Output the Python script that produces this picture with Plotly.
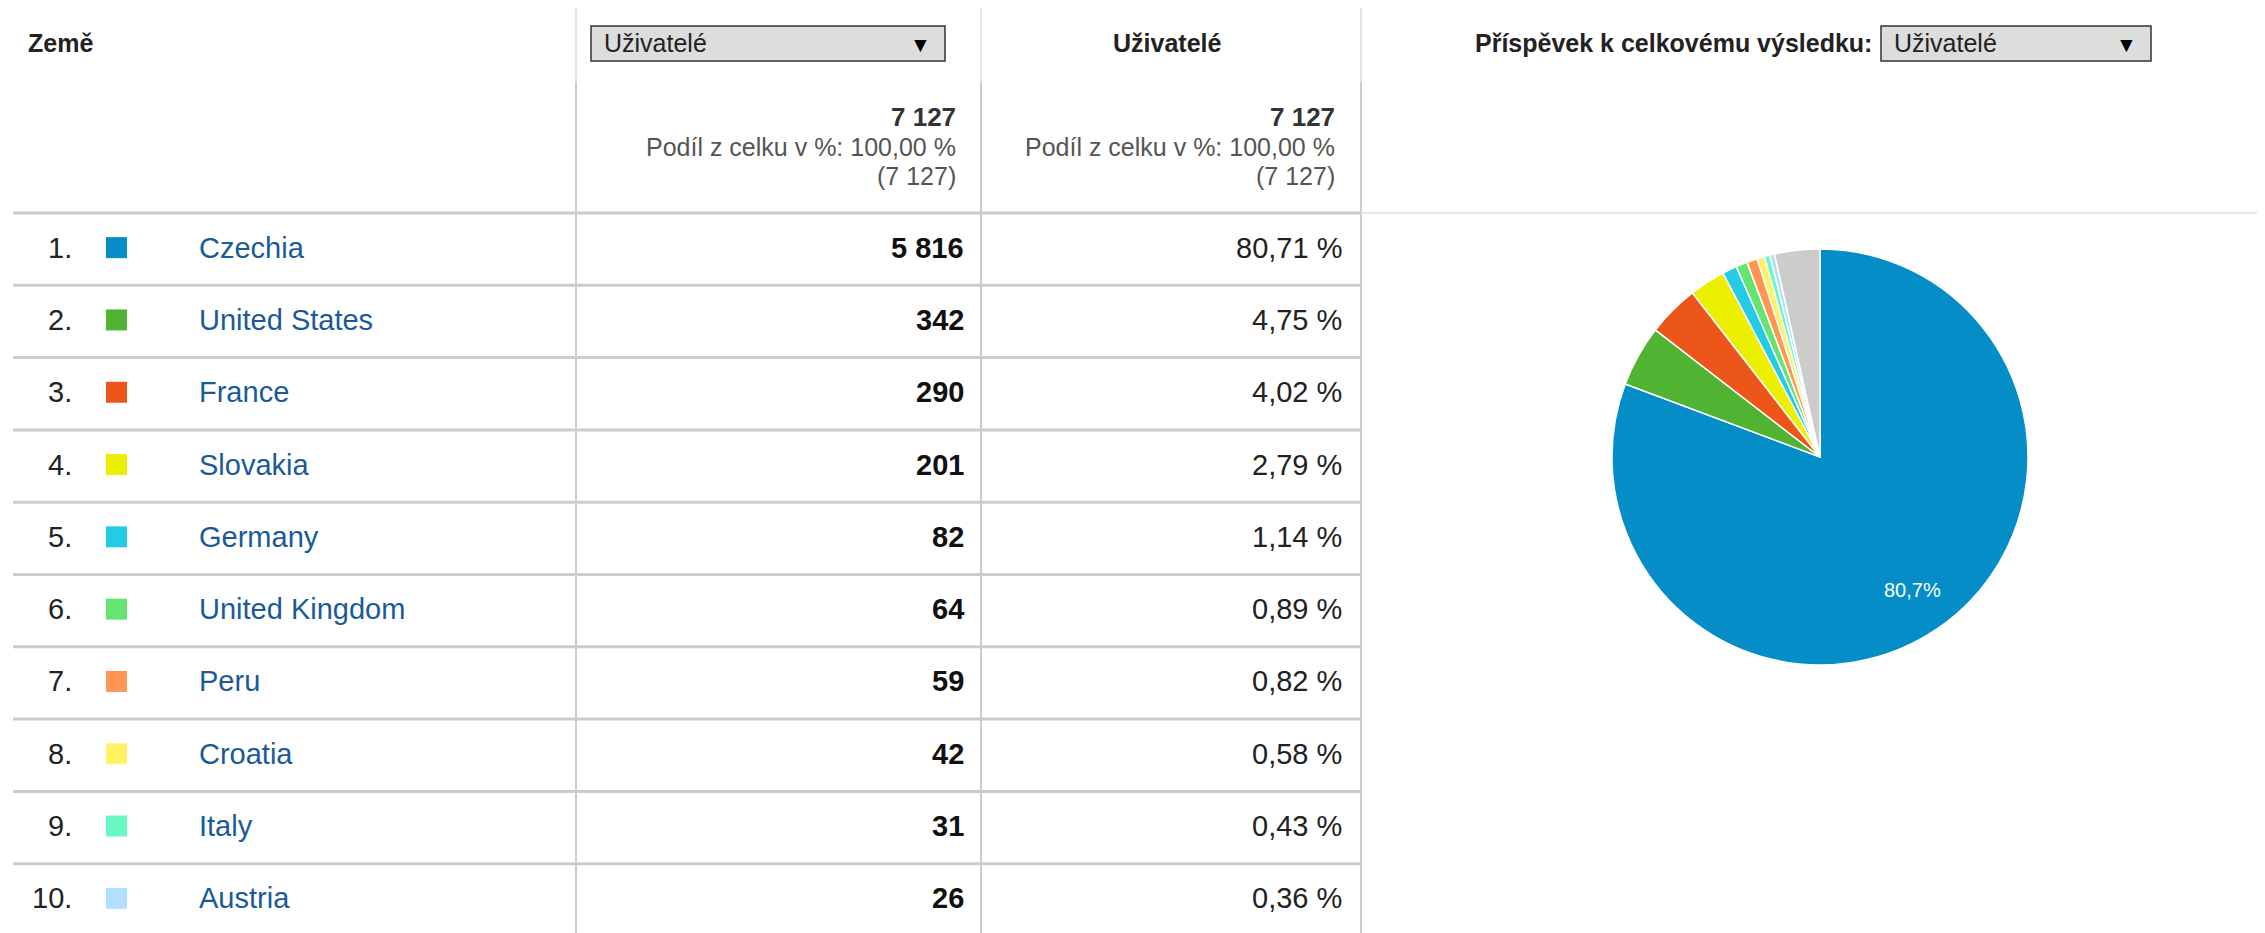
import math
import plotly.graph_objects as go

# ---------------- data ----------------
countries = ["Czechia", "United States", "France", "Slovakia", "Germany",
             "United Kingdom", "Peru", "Croatia", "Italy", "Austria"]
users = [5816, 342, 290, 201, 82, 64, 59, 42, 31, 26]
share_pct = [80.71, 4.75, 4.02, 2.79, 1.14, 0.89, 0.82, 0.58, 0.43, 0.36]
colors = ["#058dc7", "#50b432", "#ed561b", "#edef00", "#24cbe5",
          "#64e572", "#ff9655", "#fff263", "#6af9c4", "#b2deff"]
others_label = "Ostatní"
others_users = 253
others_color = "#cccccc"
total_users = 7127
total_share_text = "Podíl z celku v %: 100,00 %"

header_dim = "Země"
metric_name = "Uživatelé"
contrib_label = "Příspěvek k celkovému výsledku:"

# ---------------- layout constants (screen pixels) ----------------
W, H = 2265, 933
OFF = 8  # default page body margin
FW, FH = W - OFF, H - OFF
FONT = "Arial, 'Liberation Sans', sans-serif"
COL1, COL2, COL3 = 576, 981, 1361
HEAD_Y = 213
ROW_H = 72.3
LINK = "#1a5a99"


def fmt_int(v):
    return f"{v:,}".replace(",", " ")


def fmt_pct(v, nd=2):
    return f"{v:.{nd}f}".replace(".", ",")


fig = go.Figure()
ann = []
shapes = []


def txt(x, y, s, size, color="#222222", bold=False, xanchor="left"):
    ann.append(dict(x=x, y=y, xref="x", yref="y", text=s, showarrow=False,
                    xanchor=xanchor, yanchor="middle",
                    font=dict(family=FONT, size=size, color=color,
                              weight="bold" if bold else "normal")))


def line(x0, y0, x1, y1, color, width):
    shapes.append(dict(type="line", xref="x", yref="y", x0=x0, y0=y0, x1=x1, y1=y1,
                       line=dict(color=color, width=width), layer="below"))


# vertical separators
for cx in (COL1, COL2, COL3):
    line(cx, 7, cx, 82, "#e2e2e2", 2)
    line(cx, 82, cx, H, "#cccccc", 2)

# header bottom line
line(13, HEAD_Y, COL3, HEAD_Y, "#cccccc", 3)
line(COL3, HEAD_Y, W, HEAD_Y, "#e6e6e6", 2)

# row separators
for k in range(1, len(countries)):
    y = HEAD_Y + k * ROW_H
    line(13, y, COL3, y, "#cccccc", 3)

# dropdowns
for (x0, x1) in ((591, 945), (1881, 2151)):
    shapes.append(dict(type="rect", xref="x", yref="y", x0=x0, x1=x1, y0=26, y1=61,
                       fillcolor="#dddddd", line=dict(color="#333333", width=1.5)))
    txt(x0 + 11, 43, metric_name, 25, "#222222")
    txt(x1 - 12, 44, "▼", 21, "#000000", xanchor="right")

# header texts
txt(26, 43, header_dim, 25, "#222222", bold=True)
txt(1167, 43, metric_name, 25, "#222222", bold=True, xanchor="center")
txt(1874, 43, contrib_label, 25, "#222222", bold=True, xanchor="right")

# totals
for xr in (958, 1337):
    txt(xr, 117, fmt_int(total_users), 26, "#333333", bold=True, xanchor="right")
    txt(xr, 147, total_share_text, 25, "#555555", xanchor="right")
    txt(xr, 176, "(" + fmt_int(total_users) + ")", 25, "#555555", xanchor="right")

# rows
for i, (c, u, p, col) in enumerate(zip(countries, users, share_pct, colors)):
    yc = HEAD_Y + (i + 0.5) * ROW_H - 1.5
    txt(74, yc, f"{i + 1}.", 29, "#222222", xanchor="right")
    shapes.append(dict(type="rect", xref="x", yref="y", x0=106, x1=127,
                       y0=yc - 10.5, y1=yc + 10.5, fillcolor=col, line=dict(width=0)))
    txt(197, yc, c, 29, LINK)
    txt(966, yc, fmt_int(u), 29, "#111111", bold=True, xanchor="right")
    txt(1344, yc, fmt_pct(p) + " %", 29, "#222222", xanchor="right")

# pie
PCX, PCY, PR = 1820, 457, 208
pie_vals = users + [others_users]
pie_labels = countries + [others_label]
pie_cols = colors + [others_color]
fig.add_trace(go.Pie(
    values=pie_vals, labels=pie_labels, sort=False, direction="clockwise", rotation=0,
    marker=dict(colors=pie_cols, line=dict(color="#ffffff", width=1.5)),
    textinfo="none", hoverinfo="label+percent", showlegend=False,
    domain=dict(x=[(PCX - PR - OFF) / FW, (PCX + PR - OFF) / FW],
                y=[1 - (PCY + PR - OFF) / FH, 1 - (PCY - PR - OFF) / FH]),
))

# label of largest slice along its bisector
tot = sum(pie_vals)
frac0 = pie_vals[0] / tot
theta = math.radians(frac0 * 360 / 2)
lx = PCX + 0.78 * PR * math.sin(theta)
ly = PCY - 0.78 * PR * math.cos(theta)
txt(lx, ly, fmt_pct(frac0 * 100, 1) + "%", 20, "#ffffff", xanchor="center")

fig.update_layout(
    width=FW, height=FH, margin=dict(l=0, r=0, t=0, b=0),
    paper_bgcolor="white", plot_bgcolor="white",
    xaxis=dict(range=[OFF, W], visible=False, fixedrange=True),
    yaxis=dict(range=[H, OFF], visible=False, fixedrange=True),
    annotations=ann, shapes=shapes,
)

fig.write_html("out.html")
